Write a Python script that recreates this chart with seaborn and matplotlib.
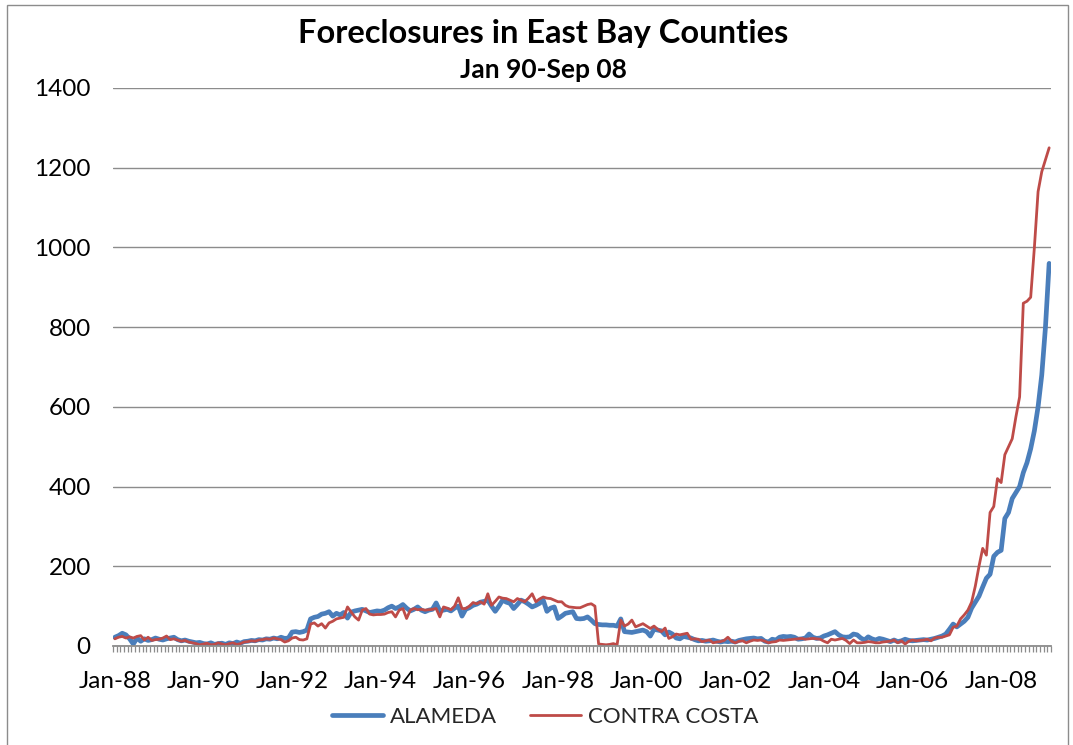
import numpy as np
import pandas as pd
import matplotlib
matplotlib.use("Agg")
import matplotlib.pyplot as plt
from matplotlib.lines import Line2D
from matplotlib.patches import Rectangle
import seaborn as sns

# Monthly foreclosure counts, Jan-88 onward
alameda = [
    22, 26, 32, 28, 18, 5, 20, 12, 18, 14, 16, 20,            # 1988
    17, 15, 18, 20, 22, 16, 13, 15, 12, 10, 8, 9,             # 1989
    6, 5, 8, 4, 6, 7, 4, 8, 6, 10, 7, 11,                     # 1990
    12, 14, 13, 16, 15, 18, 17, 20, 18, 22, 19, 20,           # 1991
    35, 36, 34, 36, 40, 68, 72, 74, 80, 82, 86, 75,           # 1992
    82, 78, 84, 70, 85, 88, 90, 92, 88, 84, 86, 88,           # 1993
    87, 90, 96, 100, 94, 98, 104, 95, 88, 92, 98, 90,         # 1994
    86, 90, 92, 108, 88, 90, 92, 88, 95, 100, 75, 92,         # 1995
    96, 102, 105, 110, 112, 115, 100, 87, 100, 115, 110, 107, # 1996
    94, 104, 115, 111, 105, 98, 102, 107, 115, 87, 95, 98,    # 1997
    69, 75, 82, 84, 86, 69, 68, 69, 73, 65, 56, 54,           # 1998
    53, 53, 52, 52, 50, 68, 36, 35, 34, 36, 38, 40,           # 1999
    36, 25, 42, 40, 38, 28, 35, 30, 20, 18, 24, 22,           # 2000
    20, 16, 13, 14, 12, 13, 15, 12, 10, 12, 11, 12,           # 2001
    10, 14, 16, 18, 19, 20, 18, 19, 12, 10, 17, 15,           # 2002
    22, 24, 23, 24, 22, 17, 18, 20, 30, 22, 19, 20,           # 2003
    25, 28, 32, 36, 28, 23, 22, 23, 30, 28, 20, 15,           # 2004
    23, 18, 15, 19, 17, 14, 11, 15, 11, 13, 17, 14,           # 2005
    13, 14, 15, 16, 15, 17, 19, 22, 25, 30, 42, 55,           # 2006
    48, 55, 62, 72, 95, 110, 125, 148, 170, 180, 225, 235,    # 2007
    240, 320, 335, 370, 385, 400, 435, 460, 495, 540, 600, 680,  # 2008
    800, 960,                                                 # 2009
]

contra_costa = [
    18, 22, 24, 20, 23, 20, 24, 26, 15, 22, 14, 16,           # 1988
    17, 20, 25, 16, 18, 15, 12, 14, 10, 8, 6, 3,              # 1989
    5, 7, 3, 4, 8, 5, 3, 6, 8, 4, 6, 10,                      # 1990
    11, 13, 12, 15, 16, 18, 17, 20, 18, 16, 10, 13,           # 1991
    20, 22, 16, 15, 18, 55, 58, 50, 56, 45, 58, 62,           # 1992
    68, 70, 72, 98, 85, 73, 65, 90, 94, 80, 78, 79,           # 1993
    79, 80, 84, 86, 73, 90, 94, 69, 90, 94, 91, 92,           # 1994
    90, 91, 92, 94, 73, 98, 95, 91, 100, 121, 94, 94,         # 1995
    100, 109, 106, 111, 105, 131, 102, 112, 123, 120, 119, 115,  # 1996
    111, 119, 115, 111, 120, 131, 111, 118, 123, 120, 119, 115,  # 1997
    111, 111, 102, 98, 97, 96, 96, 100, 104, 106, 100, 5,     # 1998
    4, 3, 4, 6, 3, 65, 50, 55, 65, 48, 52, 56,                # 1999
    50, 44, 50, 42, 36, 45, 19, 23, 30, 28, 30, 32,           # 2000
    17, 18, 17, 11, 13, 15, 8, 10, 11, 14, 22, 12,            # 2001
    8, 12, 13, 8, 12, 15, 14, 15, 12, 8, 10, 11,              # 2002
    15, 14, 15, 16, 17, 18, 19, 17, 18, 19, 18, 17,           # 2003
    12, 8, 17, 15, 17, 19, 14, 6, 15, 8, 8, 9,                # 2004
    11, 10, 8, 8, 10, 11, 12, 15, 8, 13, 5, 12,               # 2005
    15, 13, 14, 15, 17, 13, 20, 22, 22, 25, 28, 47,           # 2006
    50, 68, 78, 90, 110, 150, 200, 245, 228, 335, 350, 420,   # 2007
    410, 480, 500, 520, 575, 625, 860, 865, 875, 1000, 1140, 1190,  # 2008
    1220, 1250,                                               # 2009
]

series_names = ["ALAMEDA", "CONTRA COSTA"]
series_colors = {"ALAMEDA": "#4A7EBB", "CONTRA COSTA": "#BE4B48"}
series_widths = {"ALAMEDA": 3.4, "CONTRA COSTA": 2.0}
first_month = "1988-01"
label_step = 24
y_ticks = [0, 200, 400, 600, 800, 1000, 1200, 1400]
title = "Foreclosures in East Bay Counties"
subtitle = "Jan 90-Sep 08"

n = len(alameda)
months = pd.date_range(first_month, periods=n, freq="MS")
month_labels = list(months.strftime("%b-%y"))

# Category axis: each month sits in the middle of its slot
df = pd.DataFrame({
    "slot": np.arange(n) + 0.5,
    "ALAMEDA": alameda,
    "CONTRA COSTA": contra_costa,
})
long = df.melt(id_vars="slot", var_name="county", value_name="foreclosures")

sns.set_theme(style="white")
plt.rcParams["font.family"] = ["Lato", "DejaVu Sans"]

W, H = 1073, 745
fig = plt.figure(figsize=(W / 100, H / 100), dpi=100)
fig.patch.set_facecolor("white")

# outer chart frame
fig.add_artist(Rectangle((7 / W, -0.05), (1068 - 7) / W, 1.05 - 5 / H,
                         transform=fig.transFigure, fill=False,
                         edgecolor="#8C8C8C", linewidth=1.0))

left, right, top, bottom = 113, 1051, 88, 646
ax = fig.add_axes([left / W, 1 - bottom / H, (right - left) / W, (bottom - top) / H])

sns.lineplot(data=long, x="slot", y="foreclosures", hue="county",
             hue_order=series_names, palette=series_colors,
             size="county", sizes=series_widths, size_order=series_names,
             legend=False, ax=ax)
for line in ax.get_lines():
    line.set_solid_joinstyle("round")
    line.set_solid_capstyle("round")

ax.set_xlim(0, n)
ax.set_ylim(0, 1400)
ax.set_yticks(y_ticks)
ax.set_yticklabels([str(v) for v in y_ticks], fontsize=17.5, color="black")
ax.yaxis.grid(True, color="#8C8C8C", linewidth=1.0)
ax.set_axisbelow(True)

label_pos = [i + 0.5 for i in range(0, n, label_step)]
ax.set_xticks(label_pos)
ax.set_xticklabels([month_labels[i] for i in range(0, n, label_step)],
                   fontsize=17.5, color="black")
ax.set_xticks(np.arange(0, n + 1), minor=True)
ax.tick_params(axis="x", which="major", length=0, pad=18)
ax.tick_params(axis="x", which="minor", length=4, width=0.9, color="#8C8C8C",
               direction="out", bottom=True)
ax.tick_params(axis="y", length=0, pad=16)

for side in ["left", "right", "top"]:
    ax.spines[side].set_visible(False)
ax.spines["bottom"].set_color("#8C8C8C")
ax.spines["bottom"].set_linewidth(1.3)
ax.set_xlabel("")
ax.set_ylabel("")

fig.text(543 / W, 1 - 33 / H, title, ha="center", va="center",
         fontsize=23.5, fontweight="bold", color="black")
fig.text(543 / W, 1 - 70 / H, subtitle, ha="center", va="center",
         fontsize=19, fontweight="bold", color="black")

handles = [Line2D([0], [0], color=series_colors[s], linewidth=series_widths[s])
           for s in series_names]
fig.legend(handles, series_names, loc="center", ncol=2,
           bbox_to_anchor=(545 / W, 1 - 717 / H), frameon=False,
           fontsize=16, handlelength=2.3, handletextpad=0.3,
           columnspacing=1.5)

fig.savefig("out.png", dpi=100, facecolor="white")
